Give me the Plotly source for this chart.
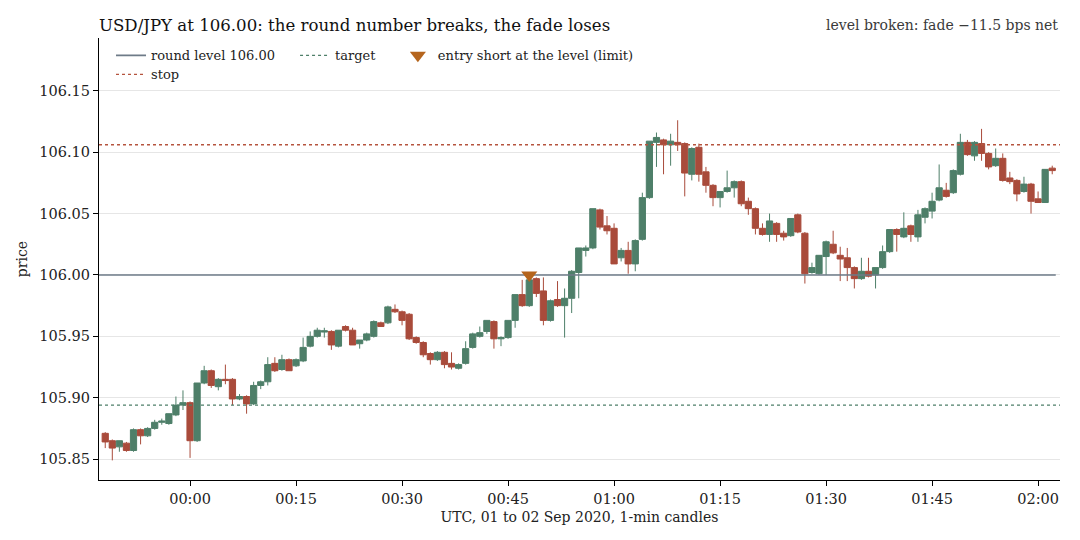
import pandas as pd
import plotly.graph_objects as go

# 1-min USD/JPY candles, 23:48 on 01 Sep to 02:02 on 02 Sep 2020 (UTC)
start = "2020-09-01 23:48"

opens = [105.871, 105.865, 105.860, 105.863, 105.857, 105.874, 105.869, 105.875, 105.880, 105.879,
         105.886, 105.894, 105.896, 105.865, 105.912, 105.922, 105.909, 105.915, 105.915, 105.899,
         105.901, 105.895, 105.910, 105.913, 105.928, 105.923, 105.931, 105.926, 105.930, 105.942,
         105.950, 105.9535, 105.954, 105.942, 105.958, 105.955, 105.944, 105.947, 105.950, 105.961,
         105.961, 105.972, 105.970, 105.968, 105.949, 105.945, 105.936, 105.931, 105.937, 105.928,
         105.924, 105.928, 105.941, 105.950, 105.954, 105.962, 105.948, 105.949, 105.963, 105.984,
         105.975, 105.997, 105.987, 105.963, 105.980, 105.975, 105.981, 106.002, 106.020, 106.022,
         106.053, 106.040, 106.038, 106.014, 106.020, 106.009, 106.029, 106.063, 106.108, 106.110,
         106.106, 106.108, 106.107, 106.082, 106.104, 106.084, 106.073, 106.063, 106.068, 106.071,
         106.076, 106.060, 106.054, 106.038, 106.033, 106.042, 106.034, 106.032, 106.049, 106.034,
         106.002, 106.001, 106.015, 106.025, 106.016, 106.014, 106.006, 105.997, 106.003, 106.000,
         106.006, 106.019, 106.037, 106.031, 106.040, 106.031, 106.047, 106.052, 106.061, 106.069,
         106.067, 106.082, 106.108, 106.097, 106.107, 106.099, 106.089, 106.095, 106.079, 106.077,
         106.068, 106.074, 106.062, 106.059, 106.087]

highs = [105.872, 105.866, 105.865, 105.864, 105.875, 105.875, 105.876, 105.882, 105.883, 105.887,
         105.901, 105.906, 105.897, 105.912, 105.926, 105.923, 105.916, 105.927, 105.916, 105.903,
         105.902, 105.913, 105.914, 105.933, 105.933, 105.935, 105.932, 105.932, 105.949, 105.954,
         105.957, 105.957, 105.955, 105.955, 105.959, 105.957, 105.947, 105.953, 105.963, 105.962,
         105.975, 105.976, 105.971, 105.969, 105.950, 105.946, 105.937, 105.938, 105.938, 105.937,
         105.928, 105.946, 105.953, 105.958, 105.963, 105.963, 105.950, 105.963, 105.984, 105.996,
         106.000, 105.998, 105.998, 105.980, 105.995, 105.989, 106.004, 106.022, 106.024, 106.054,
         106.054, 106.048, 106.042, 106.022, 106.027, 106.029, 106.067, 106.109, 106.116, 106.111,
         106.115, 106.126, 106.108, 106.104, 106.107, 106.088, 106.074, 106.068, 106.085, 106.077,
         106.077, 106.063, 106.055, 106.042, 106.050, 106.043, 106.036, 106.046, 106.050, 106.035,
         106.010, 106.016, 106.028, 106.036, 106.023, 106.022, 106.007, 106.014, 106.014, 106.006,
         106.024, 106.037, 106.038, 106.051, 106.041, 106.053, 106.055, 106.067, 106.090, 106.075,
         106.086, 106.115, 106.110, 106.109, 106.119, 106.100, 106.103, 106.099, 106.084, 106.078,
         106.080, 106.075, 106.068, 106.086, 106.089]

lows = [105.859, 105.849, 105.856, 105.856, 105.856, 105.862, 105.868, 105.874, 105.878, 105.878,
        105.885, 105.890, 105.851, 105.864, 105.911, 105.908, 105.906, 105.911, 105.894, 105.898,
        105.887, 105.894, 105.907, 105.910, 105.921, 105.922, 105.922, 105.925, 105.929, 105.941,
        105.949, 105.949, 105.939, 105.941, 105.954, 105.943, 105.940, 105.946, 105.949, 105.958,
        105.960, 105.969, 105.959, 105.947, 105.944, 105.933, 105.927, 105.930, 105.924, 105.923,
        105.923, 105.927, 105.940, 105.949, 105.952, 105.940, 105.942, 105.948, 105.957, 105.974,
        105.974, 105.982, 105.959, 105.962, 105.974, 105.949, 105.969, 105.981, 106.015, 106.021,
        106.037, 106.033, 106.009, 106.011, 106.001, 106.003, 106.028, 106.062, 106.088, 106.082,
        106.089, 106.101, 106.064, 106.077, 106.076, 106.067, 106.056, 106.055, 106.067, 106.063,
        106.056, 106.049, 106.033, 106.032, 106.027, 106.027, 106.028, 106.031, 106.034, 105.993,
        106.001, 106.000, 106.000, 106.017, 105.995, 105.995, 105.989, 105.996, 105.998, 105.989,
        106.005, 106.018, 106.019, 106.030, 106.027, 106.027, 106.042, 106.046, 106.060, 106.063,
        106.066, 106.081, 106.097, 106.093, 106.093, 106.086, 106.088, 106.076, 106.074, 106.060,
        106.067, 106.050, 106.059, 106.059, 106.082]

closes = [105.864, 105.859, 105.865, 105.857, 105.874, 105.869, 105.875, 105.880, 105.881, 105.887,
          105.894, 105.896, 105.865, 105.912, 105.922, 105.910, 105.915, 105.914, 105.899, 105.901,
          105.895, 105.910, 105.913, 105.927, 105.922, 105.931, 105.922, 105.931, 105.941, 105.950,
          105.955, 105.9545, 105.943, 105.955, 105.955, 105.943, 105.947, 105.952, 105.962, 105.958,
          105.974, 105.970, 105.963, 105.948, 105.945, 105.935, 105.931, 105.937, 105.927, 105.925,
          105.927, 105.940, 105.952, 105.953, 105.963, 105.948, 105.949, 105.963, 105.984, 105.975,
          105.996, 105.985, 105.963, 105.979, 105.975, 105.981, 106.003, 106.022, 106.022, 106.054,
          106.039, 106.036, 106.009, 106.020, 106.009, 106.028, 106.063, 106.109, 106.112, 106.106,
          106.109, 106.106, 106.083, 106.103, 106.082, 106.073, 106.063, 106.068, 106.071, 106.076,
          106.058, 106.054, 106.038, 106.033, 106.044, 106.033, 106.031, 106.046, 106.035, 106.001,
          106.006, 106.016, 106.027, 106.018, 106.013, 106.006, 105.997, 106.003, 105.999, 106.006,
          106.019, 106.037, 106.033, 106.038, 106.033, 106.049, 106.054, 106.060, 106.071, 106.064,
          106.085, 106.108, 106.098, 106.108, 106.099, 106.088, 106.095, 106.077, 106.076, 106.066,
          106.074, 106.060, 106.059, 106.086, 106.085]

round_level = 106.00
target_level = 105.894
stop_level = 106.106
entry_time = "2020-09-02 00:48"
entry_price = 106.00

y_ticks = [105.85, 105.90, 105.95, 106.00, 106.05, 106.10, 106.15]

times = pd.date_range(start, periods=len(closes), freq="1min")

GREEN = "#4e7f69"
RED = "#a94b3b"
FONT = "DejaVu Serif"

x_lo = pd.Timestamp("2020-09-01 23:47:07")
x_hi = pd.Timestamp("2020-09-02 02:03:06")

# page has an 8px body margin, so the figure is a bit smaller than the window
W, H = 1072, 532
M = dict(l=91, r=20, t=30, b=60)
plot_h = H - M["t"] - M["b"]

fig = go.Figure()

fig.add_trace(go.Candlestick(
    x=times, open=opens, high=highs, low=lows, close=closes,
    increasing=dict(line=dict(color=GREEN, width=1), fillcolor=GREEN),
    decreasing=dict(line=dict(color=RED, width=1), fillcolor=RED),
    whiskerwidth=0, showlegend=False, hoverinfo="x+y",
))

fig.add_trace(go.Scatter(
    x=[x_lo, times[-1] + pd.Timedelta(seconds=30)], y=[round_level, round_level],
    mode="lines", line=dict(color="#6e7b88", width=1.6),
    name="round level 106.00", legend="legend",
))
fig.add_trace(go.Scatter(
    x=[x_lo, x_hi], y=[target_level, target_level],
    mode="lines", line=dict(color=GREEN, width=1.4, dash="dot"),
    name="target", legend="legend2",
))
fig.add_trace(go.Scatter(
    x=[pd.Timestamp(entry_time)], y=[entry_price],
    mode="markers", marker=dict(symbol="triangle-down", size=14, color="#b5651d"),
    name="entry short at the level (limit)", legend="legend3",
))
fig.add_trace(go.Scatter(
    x=[x_lo, x_hi], y=[stop_level, stop_level],
    mode="lines", line=dict(color="#b5543e", width=1.4, dash="dot"),
    name="stop", legend="legend4",
))


def leg(x, y):
    return dict(orientation="h", x=x, y=y, xanchor="left", yanchor="top",
                bgcolor="rgba(255,255,255,0)", font=dict(family=FONT, size=13),
                itemwidth=30)


row1 = 1 - 2.4 / plot_h
row2 = 1 - 21.4 / plot_h

fig.update_layout(
    width=W, height=H,
    margin=M,
    paper_bgcolor="white", plot_bgcolor="white",
    font=dict(family=FONT, size=13, color="#222222"),
    boxgap=0.12, boxgroupgap=0,
    title=dict(text="USD/JPY at 106.00: the round number breaks, the fade loses",
               x=0, xref="paper", xanchor="left", y=1 - 17 / H, yref="container",
               yanchor="middle", font=dict(family=FONT, size=16.6, color="#111111")),
    legend=leg(0.0125, row1),
    legend2=leg(0.204, row1),
    legend3=leg(0.311, row1),
    legend4=leg(0.0125, row2),
    annotations=[dict(text="level broken: fade \u221211.5 bps net", xref="paper", yref="paper",
                      x=1, y=1 + 13 / plot_h, xanchor="right", yanchor="middle", showarrow=False,
                      font=dict(family=FONT, size=14, color="#3a3a3a"))],
    showlegend=True,
)

fig.update_xaxes(
    range=[x_lo, x_hi], rangeslider=dict(visible=False), automargin=False,
    tickformat="%H:%M", dtick=15 * 60 * 1000, tick0="2020-09-02 00:00",
    showgrid=False, showline=True, linecolor="black", linewidth=1.2,
    ticks="outside", ticklen=5, tickcolor="black",
    tickfont=dict(family=FONT, size=14.5),
    title=dict(text="UTC, 01 to 02 Sep 2020, 1-min candles", font=dict(family=FONT, size=14), standoff=6),
)
fig.update_yaxes(
    range=[105.833, 106.193], tickvals=y_ticks, ticktext=[f"{v:.2f}" for v in y_ticks],
    automargin=False,
    showgrid=True, gridcolor="#e6e6e6", gridwidth=1, zeroline=False,
    showline=True, linecolor="black", linewidth=1.2,
    ticks="outside", ticklen=5, tickcolor="black",
    tickfont=dict(family=FONT, size=14.5),
    title=dict(text="price", font=dict(family=FONT, size=14), standoff=8),
)

fig.write_html("out.html")
